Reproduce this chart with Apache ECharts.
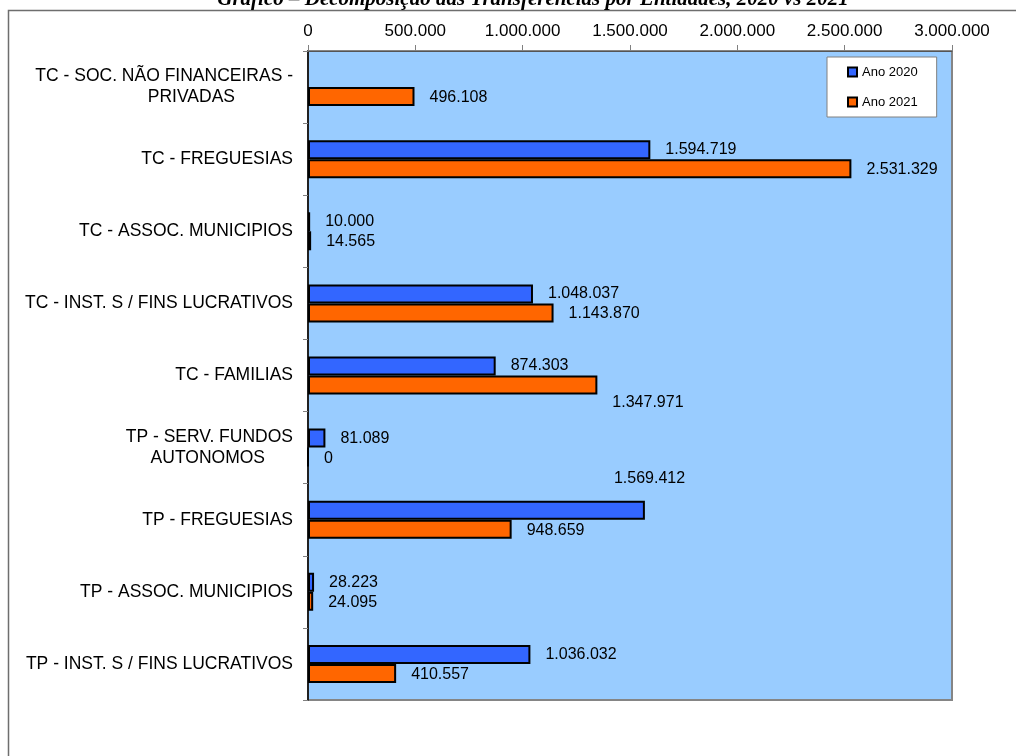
<!DOCTYPE html>
<html>
<head>
<meta charset="utf-8">
<script src="https://cdn.jsdelivr.net/npm/echarts@6/dist/echarts.min.js"></script>
<style>html,body{margin:0;padding:0;background:#fff}#c{width:1016px;height:756px}</style>
</head>
<body>
<div id="c"></div>
<script>
const title = 'Gráfico – Decomposição das Transferências por Entidades, 2020 vs 2021';
const categories = [
  'TC - SOC. NÃO FINANCEIRAS -\nPRIVADAS',
  'TC - FREGUESIAS',
  'TC - ASSOC. MUNICIPIOS',
  'TC - INST. S / FINS LUCRATIVOS',
  'TC - FAMILIAS',
  'TP - SERV. FUNDOS\nAUTONOMOS',
  'TP - FREGUESIAS',
  'TP - ASSOC. MUNICIPIOS',
  'TP - INST. S / FINS LUCRATIVOS'
];
const seriesNames = ['Ano 2020', 'Ano 2021'];
const values2020 = [null, 1594719, 10000, 1048037, 874303, 81089, 1569412, 28223, 1036032];
const values2021 = [496108, 2531329, 14565, 1143870, 1347971, 0, 948659, 24095, 410557];
const axisMin = 0, axisMax = 3000000, axisStep = 500000;

// label placement tweaks (styling only)
const tweak2020 = {6: [-46, -32]};
const tweak2021 = {4: [0, 18]};
// padding to reproduce centred second lines of wrapped labels
const secondLinePad = {0: 58, 5: 28};

function fmt(v) {
  return String(Math.round(v)).replace(/\B(?=(\d{3})+(?!\d))/g, '.');
}
function mk(vals, tw, dy) {
  return vals.map((v, i) => {
    const o = {value: v};
    if (tw[i]) o.label = {offset: tw[i]};
    else o.label = {offset: [0, dy]};
    return o;
  });
}
const FONT = '"Liberation Sans", Arial, sans-serif';
const CAT_FS = 17.5;
const chart = echarts.init(document.getElementById('c'), null, {renderer: 'canvas'});
const option = {
  animation: false,
  textStyle: {fontFamily: FONT},
  graphic: [
    {type: 'rect', shape: {x: 8.5, y: 10.5, width: 1100, height: 900}, style: {fill: 'none', stroke: '#6e6e6e', lineWidth: 1.5}, z: 0, silent: true},
    {type: 'text', x: 533, y: 0, style: {text: title, font: 'italic bold 21px "Liberation Serif", "Times New Roman", serif', fill: '#000', align: 'center', verticalAlign: 'middle'}, z: 10}
  ],
  grid: {left: 308, right: 64, top: 51, bottom: 56, show: true, backgroundColor: '#99CCFF', borderColor: '#858585', borderWidth: 2},
  legend: {
    orient: 'vertical', left: 827, top: 57,
    backgroundColor: '#fff', borderColor: '#808080', borderWidth: 1,
    padding: [8, 19, 8, 20], itemGap: 16, itemWidth: 9, itemHeight: 9, icon: 'rect',
    textStyle: {fontSize: 13, color: '#000', fontFamily: FONT, lineHeight: 14},
    data: seriesNames
  },
  xAxis: {
    type: 'value', position: 'top', min: axisMin, max: axisMax, interval: axisStep,
    axisLine: {show: true, lineStyle: {color: '#555', width: 1}},
    axisTick: {show: true, length: 6, lineStyle: {color: '#808080'}},
    splitLine: {show: false},
    axisLabel: {fontSize: 17, color: '#000', margin: 11, formatter: v => fmt(v)}
  },
  yAxis: {
    type: 'category', data: categories, inverse: true,
    axisLine: {show: true, lineStyle: {color: '#000', width: 1.5}},
    axisTick: {show: true, length: 5, lineStyle: {color: '#808080'}},
    axisLabel: {
      fontSize: CAT_FS, color: '#000', margin: 15, lineHeight: 21,
      formatter: (v, i) => {
        const parts = v.split('\n');
        if (parts.length > 1) return parts[0] + '\n{p' + i + '|' + parts[1] + '}';
        return v;
      },
      rich: Object.fromEntries(Object.entries(secondLinePad).map(([k, p]) => ['p' + k, {fontSize: CAT_FS, lineHeight: 21, padding: [0, p, 0, 0], color: '#000'}]))
    }
  },
  series: [
    {
      name: seriesNames[0], type: 'bar', data: mk(values2020, tweak2020, 0),
      barWidth: 19, barGap: '0%',
      itemStyle: {color: '#3366FF', borderColor: '#000', borderWidth: 2},
      label: {show: true, position: 'right', distance: 15, fontSize: 16, color: '#000', fontFamily: FONT,
        formatter: p => p.value == null ? '' : fmt(p.value)}
    },
    {
      name: seriesNames[1], type: 'bar', data: mk(values2021, tweak2021, 1),
      barWidth: 19, barGap: '0%',
      itemStyle: {color: '#FF6600', borderColor: '#000', borderWidth: 2},
      label: {show: true, position: 'right', distance: 15, fontSize: 16, color: '#000', fontFamily: FONT,
        formatter: p => p.value == null ? '' : fmt(p.value)}
    }
  ]
};
chart.setOption(option);
</script>
</body>
</html>
